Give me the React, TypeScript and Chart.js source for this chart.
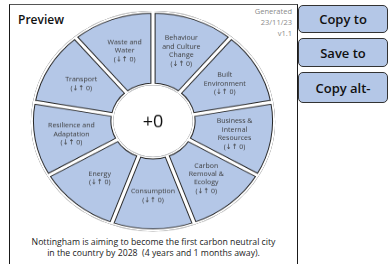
import React, { useEffect, useRef } from "react";
import { Chart, registerables } from "chart.js";
Chart.register(...registerables);

const categories = [
  "Behaviour and Culture Change",
  "Built Environment",
  "Business & Internal Resources",
  "Carbon Removal & Ecology",
  "Consumption",
  "Energy",
  "Resilience and Adaptation",
  "Transport",
  "Waste and Water",
];
const labelLines = [
  ["Behaviour", "and Culture", "Change"],
  ["Built", "Environment"],
  ["Business &", "Internal", "Resources"],
  ["Carbon", "Removal &", "Ecology"],
  ["Consumption"],
  ["Energy"],
  ["Resilience and", "Adaptation"],
  ["Transport"],
  ["Waste and", "Water"],
];
const segmentWeights = [1, 1, 1, 1, 1, 1, 1, 1, 1];
const changeValues = [0, 0, 0, 0, 0, 0, 0, 0, 0];
const totalScore = "+0";
const generatedLines = ["Generated", "23/11/23", "v1.1"];
const footerLines = [
  "Nottingham is aiming to become the first carbon neutral city",
  "in the country by 2028  (4 years and 1 months away).",
];
const buttonLabels = ["Copy to", "Save to", "Copy alt-"];

const CANVAS = 246;
const CSS_H = 222;
const FILL = "#b4c7e7";
const FONT = '"Open Sans", "DejaVu Sans", sans-serif';

export default function App() {
  const baseRef = useRef<HTMLCanvasElement>(null);
  const topRef = useRef<HTMLCanvasElement>(null);

  useEffect(() => {
    const k = CSS_H / CANVAS;
    const commonOptions: any = {
      responsive: false,
      animation: false,
      events: [],
      radius: 122,
      cutout: 40,
      layout: { padding: 0 },
      plugins: { legend: { display: false }, tooltip: { enabled: false } },
    };
    const base = new Chart(baseRef.current!, {
      type: "doughnut",
      data: {
        labels: categories,
        datasets: [
          {
            data: segmentWeights,
            backgroundColor: FILL,
            borderColor: "#262626",
            borderWidth: 2.6,
            borderAlign: "inner",
          } as any,
        ],
      },
      options: commonOptions,
    });
    const labelPlugin = {
      id: "segLabels",
      afterDatasetsDraw(chart: any) {
        const ctx = chart.ctx;
        const meta = chart.getDatasetMeta(0);
        let cx = 0,
          cy = 0;
        meta.data.forEach((arc: any, i: number) => {
          const p = arc.getProps(
            ["x", "y", "startAngle", "endAngle", "innerRadius", "outerRadius"],
            true
          );
          cx = p.x;
          cy = p.y;
          const mid = (p.startAngle + p.endAngle) / 2;
          const r = (p.innerRadius + p.outerRadius) / 2 + 2;
          const px = p.x + Math.cos(mid) * r;
          const py = p.y + Math.sin(mid) * r;
          const lines = [...labelLines[i], `(↓↑ ${changeValues[i]})`];
          ctx.save();
          ctx.translate(px, py);
          ctx.scale(1, 1 / k);
          ctx.font = `7px ${FONT}`;
          ctx.fillStyle = "#3a3a3a";
          ctx.textAlign = "center";
          ctx.textBaseline = "middle";
          const lh = 8.5;
          lines.forEach((ln, j) =>
            ctx.fillText(ln, 0, (j - (lines.length - 1) / 2) * lh)
          );
          ctx.restore();
        });
        ctx.save();
        ctx.translate(cx, cy);
        ctx.scale(1, 1 / k);
        ctx.font = `18px ${FONT}`;
        ctx.fillStyle = "#111";
        ctx.textAlign = "center";
        ctx.textBaseline = "middle";
        ctx.fillText(totalScore, 0, 1);
        ctx.restore();
      },
    };
    const top = new Chart(topRef.current!, {
      type: "doughnut",
      data: {
        labels: categories,
        datasets: [
          {
            data: segmentWeights,
            backgroundColor: "rgba(0,0,0,0)",
            borderColor: "#ffffff",
            borderWidth: 1.6,
            borderAlign: "inner",
          } as any,
        ],
      },
      options: commonOptions,
      plugins: [labelPlugin],
    });
    return () => {
      base.destroy();
      top.destroy();
    };
  }, []);

  const canvasStyle: React.CSSProperties = {
    position: "absolute",
    left: 0,
    top: 0,
    width: `${CANVAS}px`,
    height: `${CSS_H}px`,
  };

  return (
    <div
      style={{
        position: "absolute",
        left: 0,
        top: 0,
        width: 388,
        height: 264,
        overflow: "hidden",
        background: "#fff",
        fontFamily: FONT,
      }}
    >
      <div
        style={{
          position: "absolute",
          left: 9,
          top: 4,
          width: 289,
          height: 300,
          boxSizing: "border-box",
          borderLeft: "1px solid #1a1a1a",
          borderRight: "1px solid #1a1a1a",
          borderTop: "1px solid #555",
        }}
      />
      <div
        style={{
          position: "absolute",
          left: 18,
          top: 13,
          fontSize: 12,
          fontWeight: 600,
          color: "#111",
          lineHeight: "14px",
        }}
      >
        Preview
      </div>
      <div
        style={{
          position: "absolute",
          right: 388 - 292,
          top: 6,
          fontSize: 7.5,
          color: "#8a8a8a",
          lineHeight: "11px",
          textAlign: "right",
        }}
      >
        {generatedLines.map((l) => (
          <div key={l}>{l}</div>
        ))}
      </div>
      <div
        style={{ position: "absolute", left: 30, top: 10, width: CANVAS, height: CSS_H }}
      >
        <canvas ref={baseRef} width={CANVAS} height={CANVAS} style={canvasStyle} />
        <canvas ref={topRef} width={CANVAS} height={CANVAS} style={canvasStyle} />
      </div>
      <div
        style={{
          position: "absolute",
          left: 10,
          width: 287,
          top: 237,
          fontSize: 8.7,
          color: "#222",
          lineHeight: "11px",
          textAlign: "center",
          whiteSpace: "pre",
        }}
      >
        {footerLines.map((l) => (
          <div key={l}>{l}</div>
        ))}
      </div>
      {buttonLabels.map((b, i) => (
        <div
          key={b}
          style={{
            position: "absolute",
            left: 298,
            top: [5, 38, 72][i],
            width: 90,
            height: [28, 29, 31][i],
            boxSizing: "border-box",
            background: FILL,
            border: "1px solid #333",
            borderRadius: 5,
            fontSize: 13,
            fontWeight: 600,
            color: "#111",
            display: "flex",
            alignItems: "center",
            justifyContent: "center",
            overflow: "hidden",
            whiteSpace: "nowrap",
          }}
        >
          {b}
        </div>
      ))}
    </div>
  );
}
